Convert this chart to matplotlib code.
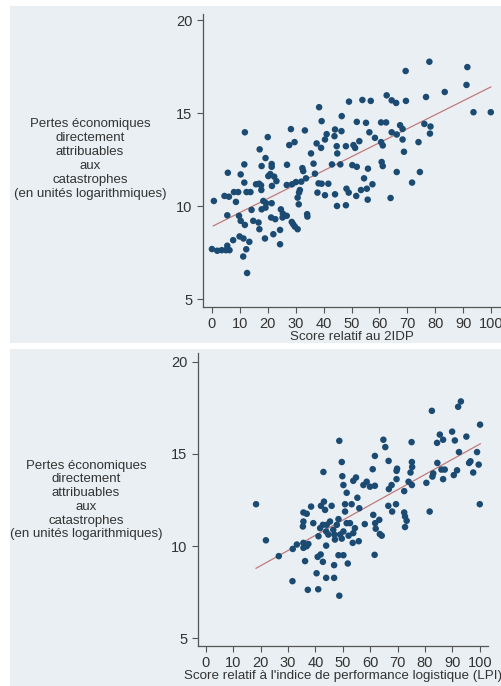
import matplotlib as mpl
import matplotlib.pyplot as plt
from matplotlib.patches import Rectangle
import numpy as np

mpl.rc('font', family=['Liberation Sans', 'DejaVu Sans'], size=9.5)

# top panel: score relatif au 2IDP vs pertes (log)
idp_x = [77.9, 69.4, 91.5, 91.2, 83.4, 76.7, 93.7, 99.9, 62.6, 64.4, 66.0, 69.5,
         49.1, 53.9, 56.9, 38.4, 46.5, 39.3, 51.9, 55.2, 60.6, 62.4, 67.4, 76.1,
         78.3, 68.3, 78.1, 64.4, 66.2, 68.3, 74.0, 68.8, 60.6, 61.2, 56.4, 58.4,
         52.8, 50.7, 51.3, 48.0, 44.1, 46.4, 43.9, 44.7, 44.9, 41.1, 40.5, 39.1,
         37.5, 33.3, 28.3, 29.6, 27.7, 20.0, 11.8, 17.1, 35.5, 36.4, 43.0, 46.0,
         50.3, 51.9, 55.9, 60.8, 61.2, 66.2, 74.5, 71.7, 54.5, 57.5, 55.5, 53.4,
         48.2, 49.0, 51.7, 55.8, 44.1, 40.5, 44.8, 48.0, 64.0, 38.2, 39.3, 41.7,
         37.8, 36.9, 32.4, 32.7, 33.7, 32.0, 30.1, 28.7, 26.8, 31.5, 31.2, 30.7,
         31.1, 34.1, 34.2, 26.9, 21.4, 21.4, 20.9, 20.2, 22.3, 23.1, 19.2, 17.8,
         21.5, 16.9, 15.8, 17.6, 17.7, 11.6, 11.6, 5.7, 10.3, 7.9, 9.4, 12.4,
         13.8, 4.5, 6.1, 0.7, 8.6, 18.4, 19.4, 21.4, 17.8, 19.2, 14.2, 24.7,
         25.4, 26.8, 25.3, 21.2, 22.7, 9.7, 10.3, 5.5, 14.8, 11.8, 16.7, 28.6,
         29.1, 29.7, 30.7, 17.0, 24.4, 22.0, 9.9, 11.3, 13.4, 7.6, 19.0, 24.4,
         5.5, 5.0, 6.3, 12.3, 0.0, 1.9, 3.5, 11.2, 12.6]
idp_y = [17.78, 17.28, 17.49, 16.53, 16.15, 15.88, 15.06, 15.06, 15.97, 15.70, 15.56, 15.67,
         15.63, 15.72, 15.67, 15.33, 14.85, 14.58, 14.54, 14.49, 14.51, 14.51, 14.36, 14.43,
         14.29, 14.16, 13.91, 13.98, 13.86, 13.59, 13.45, 12.93, 13.45, 13.27, 13.98, 13.68,
         13.50, 13.29, 13.14, 13.23, 14.13, 14.04, 13.77, 13.23, 12.84, 13.88, 13.59, 13.14,
         13.38, 14.08, 14.15, 13.45, 13.29, 13.72, 13.98, 13.06, 12.84, 12.29, 12.25, 12.25,
         12.21, 12.12, 12.02, 12.38, 12.16, 11.84, 11.84, 11.27, 11.50, 11.18, 10.94, 10.87,
         10.94, 10.73, 10.55, 10.35, 10.64, 10.59, 10.01, 10.05, 10.44, 11.23, 11.21, 11.21,
         10.73, 11.75, 12.05, 11.89, 11.50, 11.32, 11.30, 11.18, 11.14, 10.87, 10.73, 10.46,
         10.10, 9.57, 9.44, 12.23, 12.27, 12.12, 11.73, 11.62, 11.59, 11.35, 12.59, 12.16,
         11.09, 11.21, 11.18, 11.12, 10.87, 12.25, 11.27, 11.80, 11.71, 10.76, 10.76, 10.76,
         10.76, 10.55, 10.51, 10.28, 10.23, 10.28, 10.16, 10.16, 9.83, 9.92, 9.80, 9.83,
         9.60, 9.48, 9.39, 9.39, 9.30, 9.48, 9.21, 9.51, 9.21, 8.99, 9.12, 9.15,
         9.03, 8.90, 8.76, 8.76, 8.72, 8.49, 8.37, 8.26, 8.08, 8.17, 8.26, 7.95,
         7.87, 7.63, 7.63, 7.68, 7.69, 7.60, 7.63, 7.29, 6.40]
idp_fit_x = [0.5, 99.9]
idp_fit_y = [8.94, 16.42]

# bottom panel: score relatif au LPI
lpi_x = [18.3, 21.9, 26.6, 31.6, 31.7, 33.2, 35.6, 36.8, 35.6, 37.4, 36.2, 37.2,
         35.4, 35.6, 35.6, 36.8, 38.4, 39.2, 42.0, 43.1, 43.5, 45.9, 42.9, 41.1,
         41.7, 42.7, 44.1, 43.9, 45.3, 44.7, 46.5, 46.9, 47.1, 43.9, 40.8, 41.9,
         42.7, 40.4, 41.0, 43.9, 46.8, 46.8, 48.4, 50.2, 51.8, 48.7, 48.4, 47.8,
         49.0, 49.6, 50.2, 51.4, 52.6, 52.1, 53.8, 53.6, 55.8, 54.4, 50.8, 50.8,
         53.2, 51.4, 55.3, 56.0, 50.2, 49.8, 49.6, 48.7, 53.8, 54.8, 57.5, 58.7,
         59.9, 61.7, 60.9, 61.7, 64.8, 65.5, 66.7, 58.0, 61.1, 61.8, 63.3, 62.0,
         63.5, 64.2, 61.6, 66.6, 68.0, 69.4, 66.8, 67.8, 69.6, 69.6, 69.8, 72.4,
         72.4, 72.7, 73.3, 72.7, 74.0, 75.2, 74.7, 75.3, 75.2, 75.1, 80.5, 81.7,
         82.5, 82.7, 83.0, 84.5, 84.4, 85.4, 86.6, 86.0, 87.2, 86.6, 89.9, 90.9,
         90.5, 91.7, 92.4, 92.1, 93.1, 95.1, 96.1, 96.6, 97.6, 99.0, 99.6, 100.1,
         100.0]
lpi_y = [12.27, 10.31, 9.45, 8.09, 9.84, 10.08, 10.17, 9.99, 9.90, 10.11, 9.18, 7.62,
         11.06, 11.33, 11.82, 11.75, 12.14, 11.24, 12.18, 12.41, 11.96, 12.18, 14.02, 10.53,
         10.97, 11.15, 11.15, 10.79, 11.33, 10.62, 10.88, 10.62, 10.35, 10.02, 9.41, 9.54,
         9.14, 8.52, 7.65, 8.27, 8.27, 8.96, 9.50, 9.50, 9.05, 7.30, 11.46, 11.15,
         10.62, 10.40, 10.79, 11.24, 11.24, 10.56, 10.70, 10.17, 10.26, 10.97, 11.87, 12.27,
         12.27, 12.89, 12.62, 12.05, 13.31, 13.79, 14.56, 15.71, 13.54, 13.72, 13.31, 13.49,
         13.22, 13.27, 14.17, 14.89, 15.77, 15.37, 14.62, 11.19, 11.69, 11.24, 11.42, 10.94,
         10.65, 10.56, 9.52, 12.18, 11.87, 12.27, 13.09, 13.31, 13.63, 14.08, 14.20, 12.98,
         11.82, 11.60, 11.37, 11.03, 13.49, 13.31, 13.99, 14.29, 14.56, 15.64, 13.43, 11.87,
         17.34, 13.77, 13.94, 14.51, 15.60, 16.05, 15.77, 14.15, 14.15, 13.63, 16.21, 15.73,
         13.85, 14.11, 15.10, 17.56, 17.85, 15.94, 14.51, 14.60, 13.99, 15.10, 14.42, 16.59,
         12.27]
lpi_fit_x = [18.3, 100.2]
lpi_fit_y = [8.79, 15.55]

ylabel = ("Pertes économiques\ndirectement\nattribuables\naux\ncatastrophes\n"
          "(en unités logarithmiques)")
xticks = list(range(0, 101, 10))
yticks = [5, 10, 15, 20]

bg = "#e9eff2"
dot = "#1b4a73"
fitc = "#c07b7b"
W, H = 502, 686

fig = plt.figure(figsize=(W / 100, H / 100), dpi=100, facecolor="white")

def px(x0, y0, x1, y1):
  return [x0 / W, 1 - y1 / H, (x1 - x0) / W, (y1 - y0) / H]

def panel(box, axbox, xlim, ylim, xs, ys, fx, fy, xlabel, ylab_xy):
  r = px(*box)
  fig.patches.append(Rectangle((r[0], r[1]), r[2], r[3], transform=fig.transFigure,
                               facecolor=bg, edgecolor="none", zorder=-10))
  ax = fig.add_axes(px(*axbox))
  ax.set_zorder(5)
  ax.set_facecolor(bg)
  ax.scatter(xs, ys, s=22, color=dot, edgecolors="none", zorder=3)
  ax.plot(fx, fy, "-", color=fitc, lw=0.9, zorder=2)
  ax.set_xlim(*xlim)
  ax.set_ylim(*ylim)
  ax.set_xticks(xticks)
  ax.set_yticks(yticks)
  for s in ["top", "right"]:
    ax.spines[s].set_visible(False)
  for s in ["left", "bottom"]:
    ax.spines[s].set_color("#555555")
    ax.spines[s].set_linewidth(0.9)
  ax.tick_params(colors="#555555", labelcolor="#333333", length=4.5, width=0.8,
                 labelsize=10.5, pad=3)
  ax.set_xlabel(xlabel, fontsize=9.6, color="#333333", labelpad=0)
  fig.text(ylab_xy[0] / W, 1 - ylab_xy[1] / H, ylabel, ha="center", va="center",
           fontsize=9.5, color="#333333", linespacing=1.2, zorder=6)
  return ax

panel((10, 6, 502, 343), (203, 14, 500, 307), (-3.2, 103.2), (4.57, 20.35),
      idp_x, idp_y, idp_fit_x, idp_fit_y, "Score relatif au 2IDP", (90, 159))
panel((10, 349, 502, 686), (198, 353, 488, 646), (-2.9, 103), (4.57, 20.48),
      lpi_x, lpi_y, lpi_fit_x, lpi_fit_y,
      "Score relatif à l'indice de performance logistique (LPI)", (86, 500))

plt.savefig("out.png", dpi=100, facecolor="white")
